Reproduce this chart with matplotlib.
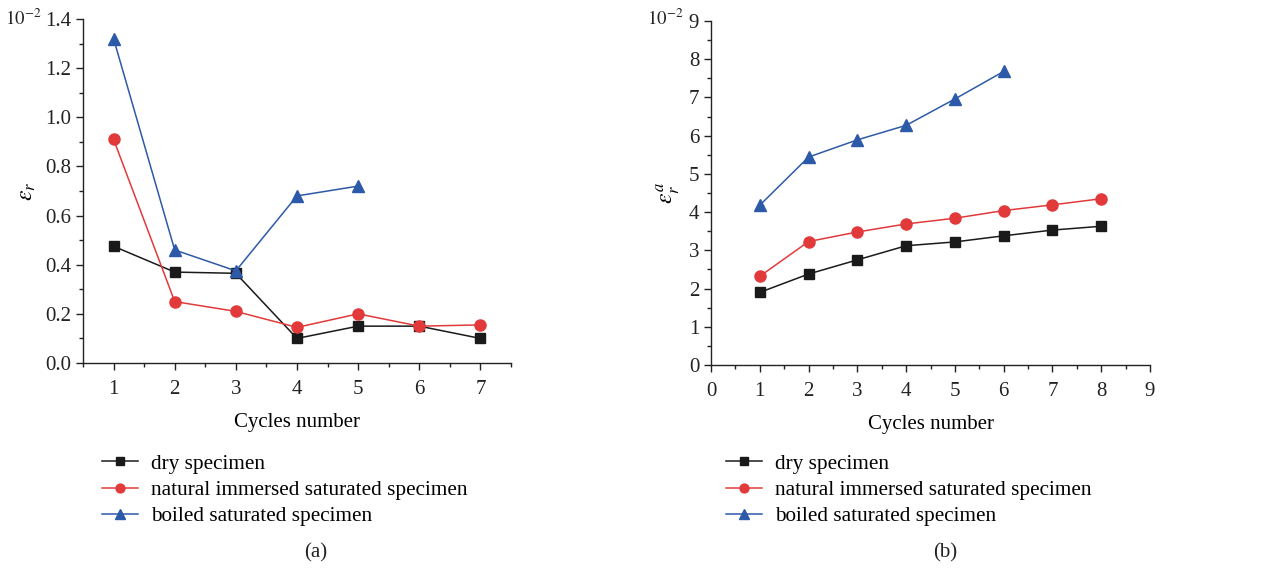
import matplotlib
matplotlib.use("Agg")
import matplotlib.pyplot as plt
from matplotlib.ticker import MultipleLocator

plt.rcParams['font.family'] = ['Liberation Serif', 'DejaVu Serif']
plt.rcParams['mathtext.fontset'] = 'stix'

series_names = ["dry specimen", "natural immersed saturated specimen", "boiled saturated specimen"]

# (a) residual strain
cycles_a_dry = [1, 2, 3, 4, 5, 6, 7]
eps_r_dry = [0.475, 0.37, 0.365, 0.10, 0.15, 0.15, 0.10]
cycles_a_nat = [1, 2, 3, 4, 5, 6, 7]
eps_r_nat = [0.91, 0.25, 0.21, 0.145, 0.20, 0.15, 0.155]
cycles_a_boil = [1, 2, 3, 4, 5]
eps_r_boil = [1.32, 0.46, 0.375, 0.68, 0.72]

# (b) accumulated residual strain
cycles_b_dry = [1, 2, 3, 4, 5, 6, 7, 8]
eps_ra_dry = [1.9, 2.38, 2.75, 3.12, 3.22, 3.38, 3.53, 3.63]
cycles_b_nat = [1, 2, 3, 4, 5, 6, 7, 8]
eps_ra_nat = [2.32, 3.23, 3.48, 3.69, 3.84, 4.04, 4.19, 4.35]
cycles_b_boil = [1, 2, 3, 4, 5, 6]
eps_ra_boil = [4.18, 5.44, 5.89, 6.27, 6.96, 7.68]

colors = ["#1a1a1a", "#e23a3a", "#2d5aa8"]
markers = ["s", "o", "^"]
msizes = [7, 8, 9]

fig = plt.figure(figsize=(12.74, 5.71), dpi=100)
axA = fig.add_axes([83/1274, 1-363/571, (511-83)/1274, (363-19)/571])
axB = fig.add_axes([711/1274, 1-365/571, (1150-711)/1274, (365-21)/571])

data_a = [(cycles_a_dry, eps_r_dry), (cycles_a_nat, eps_r_nat), (cycles_a_boil, eps_r_boil)]
data_b = [(cycles_b_dry, eps_ra_dry), (cycles_b_nat, eps_ra_nat), (cycles_b_boil, eps_ra_boil)]

for ax, data in ((axA, data_a), (axB, data_b)):
    for (x, y), c, m, ms, nm in zip(data, colors, markers, msizes, series_names):
        ax.plot(x, y, color=c, marker=m, markersize=ms, linewidth=1.1, label=nm)
    for s in ('top', 'right'):
        ax.spines[s].set_visible(False)
    for s in ('left', 'bottom'):
        ax.spines[s].set_linewidth(1.0)
        ax.spines[s].set_color('#222222')
    ax.tick_params(direction='out', labelsize=15, length=5, width=1, colors='#222222')
    ax.tick_params(axis='x', pad=7)
    ax.tick_params(which='minor', direction='out', length=3, width=1, colors='#222222')
    ax.set_xlabel("Cycles number", fontsize=15, labelpad=10)

axA.set_xlim(0.5, 7.5)
axA.set_ylim(0, 1.4)
axA.xaxis.set_major_locator(MultipleLocator(1))
axA.xaxis.set_minor_locator(MultipleLocator(0.5))
axA.yaxis.set_major_locator(MultipleLocator(0.2))
axA.yaxis.set_minor_locator(MultipleLocator(0.1))
axA.yaxis.set_major_formatter(matplotlib.ticker.FormatStrFormatter('%.1f'))
axA.set_ylabel(r"$\varepsilon_r$", fontsize=17, labelpad=5)

axB.set_xlim(0, 9)
axB.set_ylim(0, 9)
axB.xaxis.set_major_locator(MultipleLocator(1))
axB.xaxis.set_minor_locator(MultipleLocator(0.5))
axB.yaxis.set_major_locator(MultipleLocator(1))
axB.yaxis.set_minor_locator(MultipleLocator(0.5))
axB.set_ylabel(r"$\varepsilon_r^a$", fontsize=17, labelpad=5)

fig.text(5/1274, 1-19/571, r"$10^{-2}$", fontsize=13.5, ha='left', va='center', color='#222222')
fig.text(647/1274, 1-19/571, r"$10^{-2}$", fontsize=13.5, ha='left', va='center', color='#222222')

for ax, x0, cap, capx in ((axA, 102, "(a)", 316), (axB, 726, "(b)", 945)):
    h, l = ax.get_legend_handles_labels()
    fig.legend(h, l, loc='upper left', bbox_to_anchor=(x0/1274, 1-454/571),
               frameon=False, fontsize=15.3, handlelength=1.7, handletextpad=0.6,
               labelspacing=0.3, borderaxespad=0, borderpad=0, markerscale=0.8)
    fig.text(capx/1274, 1-553/571, cap, fontsize=15, ha='center', va='center', color='#222222')

fig.savefig("out.png", dpi=100)
